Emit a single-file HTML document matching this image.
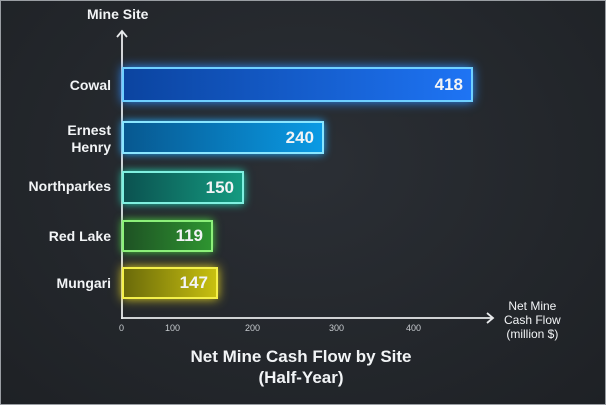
<!DOCTYPE html><html><head><style>
body{margin:0;}
.w{position:relative;width:604px;height:403px;background:radial-gradient(ellipse at 50% 40%,#2b2f35,#1e2125);border:1px solid #9a9ea3;overflow:hidden;font-family:"Liberation Sans",sans-serif;color:#f2f4f6}
.t{position:absolute;white-space:nowrap}
.lab{position:absolute;right:494px;text-align:right;font-weight:bold;font-size:14px;line-height:17px}
.bar{position:absolute;left:121px;box-sizing:border-box;border:2px solid;font-weight:bold;font-size:17px;text-align:right;padding-right:8px}
.tk{position:absolute;top:322px;font-size:9px;color:#c8ccd0}
</style></head><body><div class="w">
<div class="t" style="left:86px;top:5px;font-size:14px;font-weight:bold">Mine Site</div>
<svg style="position:absolute;left:0;top:0" width="604" height="403">
<path d="M121 318V30M116 36L121 30L126 36M120 317H492M486 312L492 317L486 322" stroke="#e8eaec" stroke-width="1.8" fill="none"/>
</svg>
<div class="bar" style="top:66px;width:351px;height:35px;line-height:31px;border-color:#6fd0ff;background:linear-gradient(90deg,#0b44a0,#1e74f4);box-shadow:0 0 10px #2a8cff">418</div>
<div class="bar" style="top:120px;width:202px;height:33px;line-height:29px;border-color:#8ae6ff;background:linear-gradient(90deg,#075890,#0a9ae4);box-shadow:0 0 8px #22aaff">240</div>
<div class="bar" style="top:170px;width:122px;height:33px;line-height:29px;border-color:#7ff0e0;background:linear-gradient(90deg,#0b5250,#149a80);box-shadow:0 0 8px #22d0b0">150</div>
<div class="bar" style="top:219px;width:91px;height:32px;line-height:28px;border-color:#8cf07a;background:linear-gradient(90deg,#1e5224,#2e9430);box-shadow:0 0 8px #4ad040">119</div>
<div class="bar" style="top:266px;width:96px;height:32px;line-height:28px;border-color:#f4f04a;background:linear-gradient(90deg,#6a6a0a,#c8c010);box-shadow:0 0 10px #e0d020">147</div>
<div class="lab" style="top:76px">Cowal</div>
<div class="lab" style="top:121px">Ernest<br>Henry</div>
<div class="lab" style="top:177px">Northparkes</div>
<div class="lab" style="top:227px">Red Lake</div>
<div class="lab" style="top:274px">Mungari</div>
<div class="tk" style="left:118px">0</div>
<div class="tk" style="left:164px">100</div>
<div class="tk" style="left:244px">200</div>
<div class="tk" style="left:328px">300</div>
<div class="tk" style="left:405px">400</div>
<div class="t" style="left:503px;top:298px;font-size:12px;line-height:14px;text-align:center">Net Mine<br>Cash Flow<br>(million $)</div>
<div class="t" style="left:155px;top:345px;width:290px;text-align:center;font-size:17px;font-weight:bold;line-height:21px">Net Mine Cash Flow by Site<br>(Half-Year)</div>
</div></body></html>
